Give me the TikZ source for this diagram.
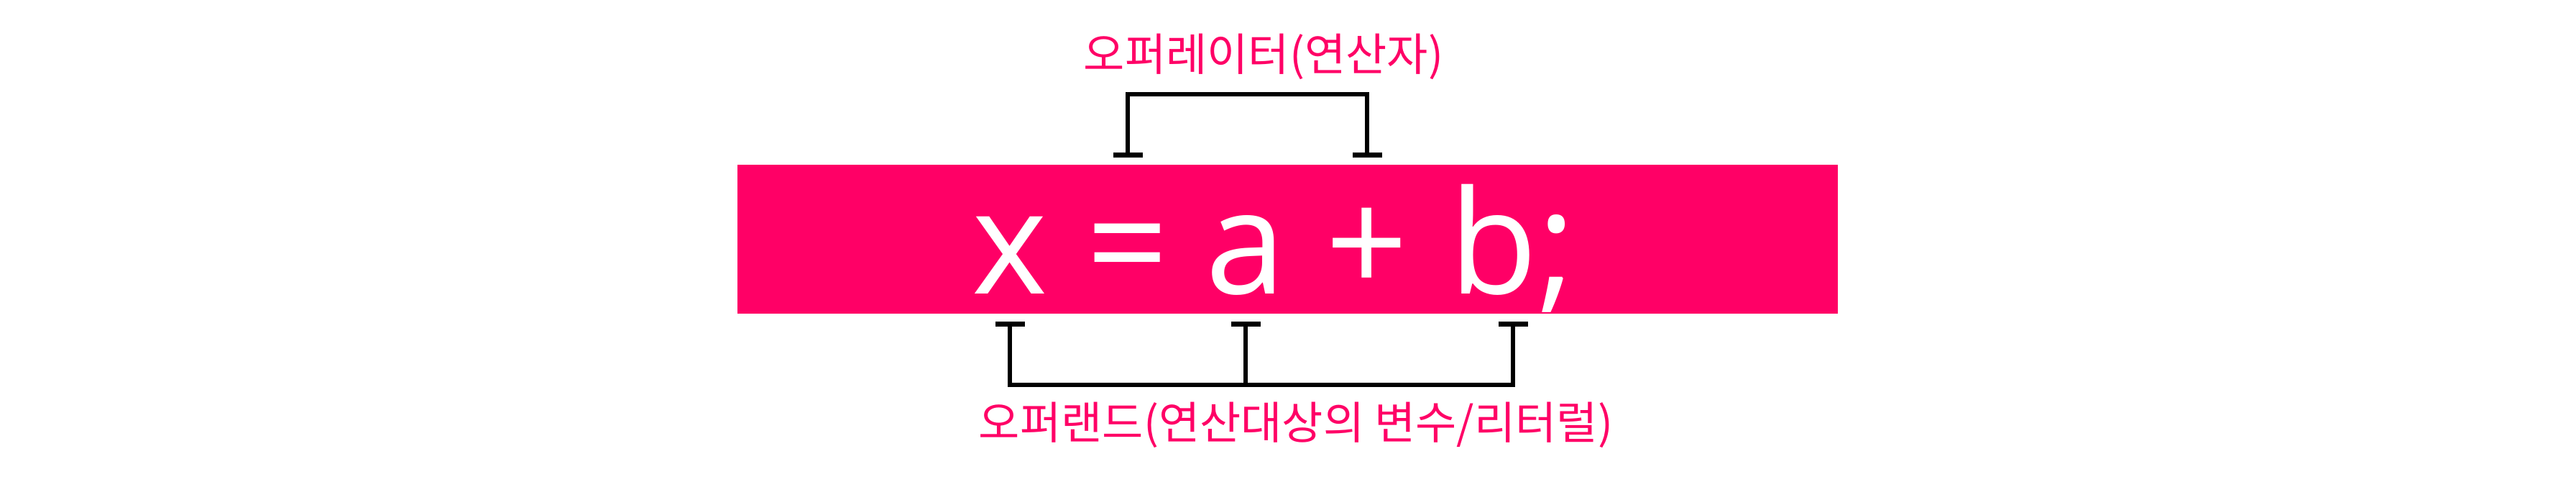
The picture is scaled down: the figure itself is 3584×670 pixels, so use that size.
\documentclass[tikz,border=0pt]{standalone}
\usepackage{fontspec}
\usepackage{tikz}
\usetikzlibrary{arrows.meta, calc}
\newfontfamily\kofont{Noto Sans CJK KR}
\newfontfamily\codefont{Open Sans}
\definecolor{mypink}{RGB}{255,0,102}
\tikzset{
  codebox/.style={rectangle, fill=mypink, minimum width=15.31cm,
    minimum height=2.07cm, inner sep=0pt},
  token/.style={text=white, font=\codefont\fontsize{57}{60}\selectfont,
    inner sep=0pt, anchor=base},
  tag/.style={text=mypink, font=\kofont\fontsize{17.7}{21}\selectfont,
    inner sep=0pt},
  bracket/.style={line width=0.055cm, color=black},
  endbar/.tip={Bar[width=0.41cm, line width=0.07cm 0]}
}

\begin{document}
\begin{tikzpicture}[x=0.01cm, y=0.01cm]
  \useasboundingbox (0,0) rectangle (3584,670);

  % Code line
  \node[codebox] (code) at (1791.5,337.5) {};
  \node[token] (tokX) at (1405,261) {x};
  \node[token] (tokEq) at (1569,261) {=};
  \node[token] (tokA) at (1733,261) {a};
  \node[token] (tokPlus) at (1902,261) {+};
  \node[token] (tokB) at (2105,261) {b;};

  % Operator bracket (above)
  \coordinate (opbar) at (0,539);
  \coordinate (opcap) at (0,451);
  \draw[bracket, endbar-endbar] (tokEq |- opcap) -- (tokEq |- opbar) -- (tokPlus |- opbar) -- (tokPlus |- opcap);
  \node[tag] (opname) at (1758,591) {오퍼레이터(연산자)};

  % Operand bracket (below)
  \coordinate (ndbar) at (0,135);
  \coordinate (ndcap) at (0,223);
  \draw[bracket, endbar-endbar] (tokX |- ndcap) -- (tokX |- ndbar) -- (tokB |- ndbar) -- (tokB |- ndcap);
  \draw[bracket, -endbar] (tokA |- ndbar) -- (tokA |- ndcap);
  \node[tag] (ndname) at (1803,79) {오퍼랜드(연산대상의 변수/리터럴)};
\end{tikzpicture}
\end{document}
